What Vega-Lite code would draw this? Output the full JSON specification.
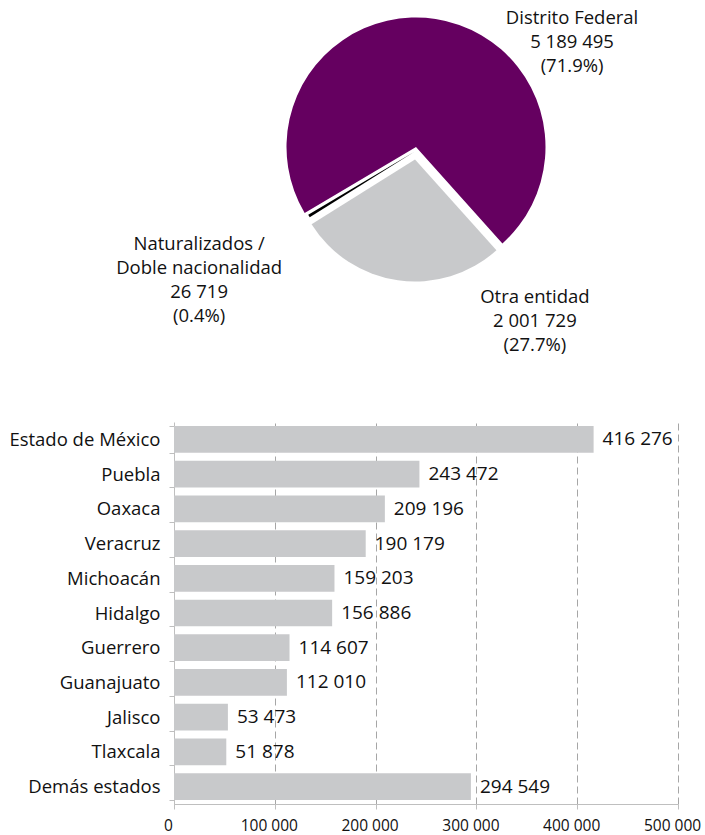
{
  "$schema": "https://vega.github.io/schema/vega-lite/v6.json",
  "padding": {"left": 8, "top": 5, "right": 5, "bottom": 2},
  "bounds": "flush",
  "spacing": 133,
  "config": {
    "locale": {"number": {"decimal": ".", "thousands": " ", "grouping": [3], "currency": ["$", ""]}},
    "font": "Open Sans",
    "view": {"stroke": null}
  },
  "vconcat": [
    {
      "width": 484,
      "height": 284,
      "data": {"values": [
        {"entidad": "Distrito Federal", "poblacion": 5189495, "orden": 1},
        {"entidad": "Otra entidad", "poblacion": 2001729, "orden": 2},
        {"entidad": "Naturalizados /\nDoble nacionalidad", "poblacion": 26719, "orden": 3}
      ]},
      "transform": [
        {"stack": "poblacion", "groupby": [], "offset": "normalize", "sort": [{"field": "orden", "order": "ascending"}], "as": ["v0", "v1"]},
        {"calculate": "(datum.v0 + datum.v1) / 2", "as": "mid"},
        {"calculate": "split(datum.entidad + '\\n' + format(datum.poblacion, ',') + '\\n(' + format(datum.v1 - datum.v0, '.1%') + ')', '\\n')", "as": "etiqueta"}
      ],
      "layer": [
        {
          "transform": [{"filter": "datum.orden == 1"}],
          "mark": {"type": "arc", "radius": 129.5, "color": "#650060"},
          "encoding": {
            "theta": {"field": "v0", "type": "quantitative", "stack": null, "scale": {"domain": [0, 1], "range": [4.1766, 10.4598]}},
            "theta2": {"field": "v1"}
          }
        },
        {
          "transform": [{"filter": "datum.orden == 2"}],
          "mark": {"type": "arc", "radius": 122, "color": "#c8c9cb", "xOffset": -1, "yOffset": 12.5},
          "encoding": {
            "theta": {"field": "v0", "type": "quantitative", "stack": null},
            "theta2": {"field": "v1"}
          }
        },
        {
          "transform": [{"filter": "datum.orden == 3"}],
          "mark": {"type": "arc", "radius": 123, "color": "#000000", "xOffset": -2, "yOffset": 5},
          "encoding": {
            "theta": {"field": "v0", "type": "quantitative", "stack": null},
            "theta2": {"field": "v1"}
          }
        },
        {
          "transform": [{"filter": "datum.orden == 1"}],
          "mark": {"type": "text", "fontSize": 18.5, "lineHeight": 24, "align": "center", "baseline": "middle", "color": "#111111", "dx": 140, "dy": -24},
          "encoding": {
            "theta": {"field": "mid", "type": "quantitative", "stack": null},
            "radius": {"value": 106},
            "text": {"field": "etiqueta"}
          }
        },
        {
          "transform": [{"filter": "datum.orden == 2"}],
          "mark": {"type": "text", "fontSize": 18.5, "lineHeight": 24, "align": "center", "baseline": "middle", "color": "#111111", "dx": 143, "dy": -20},
          "encoding": {
            "theta": {"field": "mid", "type": "quantitative", "stack": null},
            "radius": {"value": 172},
            "text": {"field": "etiqueta"}
          }
        },
        {
          "transform": [{"filter": "datum.orden == 3"}],
          "mark": {"type": "text", "fontSize": 18.5, "lineHeight": 24, "align": "center", "baseline": "middle", "color": "#111111", "dy": -35},
          "encoding": {
            "theta": {"field": "mid", "type": "quantitative", "stack": null},
            "radius": {"value": 254},
            "text": {"field": "etiqueta"}
          }
        }
      ]
    },
    {
      "width": 504,
      "height": 382,
      "data": {"values": [
        {"estado": "Estado de México", "poblacion": 416276},
        {"estado": "Puebla", "poblacion": 243472},
        {"estado": "Oaxaca", "poblacion": 209196},
        {"estado": "Veracruz", "poblacion": 190179},
        {"estado": "Michoacán", "poblacion": 159203},
        {"estado": "Hidalgo", "poblacion": 156886},
        {"estado": "Guerrero", "poblacion": 114607},
        {"estado": "Guanajuato", "poblacion": 112010},
        {"estado": "Jalisco", "poblacion": 53473},
        {"estado": "Tlaxcala", "poblacion": 51878},
        {"estado": "Demás estados", "poblacion": 294549}
      ]},
      "encoding": {
        "y": {
          "field": "estado", "type": "nominal", "sort": null,
          "scale": {"paddingInner": 0.23, "paddingOuter": 0.115},
          "axis": {
            "title": null, "labelFontSize": 18.5, "labelColor": "#111111", "labelPadding": 9,
            "tickBand": "extent", "tickSize": 5, "tickColor": "#bfbfbf", "domainColor": "#bfbfbf",
            "grid": false
          }
        },
        "x": {
          "field": "poblacion", "type": "quantitative",
          "scale": {"domain": [0, 500000]},
          "axis": {
            "title": null, "values": [0, 100000, 200000, 300000, 400000, 500000],
            "labelExpr": "format(datum.value, ',')",
            "labelFontSize": 15.5, "labelColor": "#111111", "labelPadding": 9, "labelFlush": false, "labelOffset": -6,
            "tickSize": 5, "tickColor": "#bfbfbf", "domainColor": "#bfbfbf",
            "grid": true, "gridDash": [7, 4], "gridColor": "#a6a6a6"
          }
        }
      },
      "layer": [
        {"mark": {"type": "bar", "color": "#c8c9cb"}},
        {
          "mark": {"type": "text", "align": "left", "baseline": "middle", "dx": 9, "fontSize": 19, "color": "#111111"},
          "encoding": {"text": {"field": "poblacion", "type": "quantitative", "format": ","}}
        }
      ]
    }
  ]
}
